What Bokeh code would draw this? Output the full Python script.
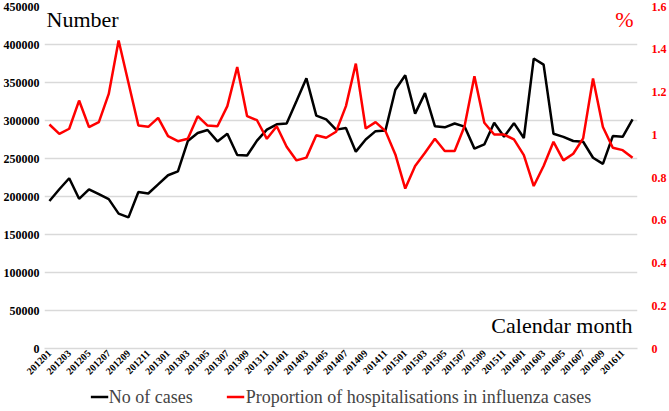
import math
from bokeh.plotting import figure
from bokeh.layouts import column
from bokeh.models import (Range1d, LinearAxis, FixedTicker, CustomJSTickFormatter,
                          NumeralTickFormatter, Legend, LegendItem, Label, FactorRange)
from bokeh.embed import file_html
from bokeh.resources import INLINE

months = [f"{y}{m:02d}" for y in range(2012, 2017) for m in range(1, 13)]

cases = [194000, 209500, 224000, 197000, 209500, 203000, 196500, 177500, 172500, 206000,
         204000, 216000, 228000, 233000, 273000, 283500, 287500, 272500, 282500, 254500,
         254000, 273500, 288000, 295000, 296000, 325500, 355500, 306500, 301500, 288000,
         290000, 259000, 275000, 286000, 287000, 340500, 359500, 309000, 336000, 292500,
         291000, 296000, 292000, 263000, 268500, 297000, 278500, 296500, 277000, 381500,
         373500, 282500, 278500, 273000, 272000, 251000, 243000, 279500, 278500, 301500]

proportion = [1.048, 1.004, 1.028, 1.160, 1.036, 1.059, 1.191, 1.441, 1.242, 1.043,
              1.037, 1.079, 0.994, 0.970, 0.981, 1.087, 1.043, 1.040, 1.134, 1.317,
              1.087, 1.068, 0.981, 1.040, 0.944, 0.880, 0.893, 0.998, 0.986, 1.014,
              1.134, 1.333, 1.029, 1.059, 1.017, 0.908, 0.748, 0.854, 0.916, 0.981,
              0.924, 0.924, 1.040, 1.274, 1.056, 1.001, 1.001, 0.978, 0.905, 0.760,
              0.854, 0.967, 0.880, 0.911, 0.983, 1.263, 1.036, 0.939, 0.928, 0.892]

left_ticks = [0, 50000, 100000, 150000, 200000, 250000, 300000, 350000, 400000, 450000]
right_ticks = [0, 0.2, 0.4, 0.6, 0.8, 1.0, 1.2, 1.4, 1.6]

series_names = ["No of cases", "Proportion of hospitalisations in influenza cases"]

FONT = "Liberation Serif"
RED = "#ff0000"
GRID = "#d9d9d9"

p = figure(width=669, height=383, x_range=FactorRange(factors=months),
           y_range=Range1d(0, 450000), output_backend="svg", toolbar_location=None,
           min_border_left=43, min_border_right=32, min_border_top=6, min_border_bottom=35)
p.outline_line_color = None
p.background_fill_color = "white"
p.border_fill_color = "white"

p.extra_y_ranges = {"pct": Range1d(0, 1.6)}

# left axis
ya = p.yaxis[0]
ya.ticker = FixedTicker(ticks=left_ticks)
ya.formatter = NumeralTickFormatter(format="0")
ya.axis_line_color = None
ya.major_tick_line_color = None
ya.minor_tick_line_color = None
ya.major_tick_out = 0
ya.major_label_standoff = 5
ya.major_label_text_font = FONT
ya.major_label_text_font_style = "bold"
ya.major_label_text_font_size = "12px"
ya.major_label_text_color = "black"

# right axis
ra = LinearAxis(y_range_name="pct", ticker=FixedTicker(ticks=right_ticks),
                formatter=CustomJSTickFormatter(code="return String(Math.round(tick*10)/10);"))
ra.axis_line_color = None
ra.major_tick_line_color = None
ra.minor_tick_line_color = None
ra.major_tick_out = 0
ra.major_label_standoff = 14
ra.major_label_text_font = FONT
ra.major_label_text_font_style = "bold"
ra.major_label_text_font_size = "12px"
ra.major_label_text_color = RED
p.add_layout(ra, "right")

# x axis
xa = p.xaxis[0]
xa.formatter = CustomJSTickFormatter(code="return (index % 2) ? '' : tick;")
xa.major_label_orientation = math.pi / 4
xa.major_label_text_font = FONT
xa.major_label_text_font_style = "bold"
xa.major_label_text_font_size = "10px"
xa.major_label_text_color = "black"
xa.major_tick_line_color = None
xa.major_tick_out = 0
xa.major_label_standoff = 3
xa.axis_line_color = GRID
xa.axis_line_width = 1.5

p.xgrid.visible = False
p.ygrid.grid_line_color = GRID
p.ygrid.grid_line_width = 1.5

r1 = p.line(months, cases, line_color="black", line_width=2.5)
r2 = p.line(months, proportion, line_color=RED, line_width=2.5, y_range_name="pct")

p.add_layout(Label(x=0, y=450000, x_offset=2, y_offset=0, text="Number",
                   text_font=FONT, text_font_size="22px", text_baseline="top",
                   text_color="black"))
p.add_layout(Label(x=60, y=450000, x_offset=-4, y_offset=0, text="%",
                   text_font=FONT, text_font_size="22px", text_baseline="top",
                   text_align="right", text_color=RED))
p.add_layout(Label(x=60, y=30000, x_offset=-5, text="Calendar month",
                   text_font=FONT, text_font_size="22px", text_baseline="middle",
                   text_align="right", text_color="black",
                   background_fill_color="white"))

# legend strip below the chart (hidden copies of the series supply the legend glyphs)
lg = figure(width=669, height=27, output_backend="svg", toolbar_location=None,
            x_axis_type=None, y_axis_type=None, x_range=FactorRange(factors=months),
            y_range=Range1d(0, 450000), min_border=0)
lg.extra_y_ranges = {"pct": Range1d(0, 1.6)}
lg.outline_line_color = None
lg.grid.visible = False
k1 = lg.line(months, cases, line_color="black", line_width=2.5, visible=False)
k2 = lg.line(months, proportion, line_color=RED, line_width=2.5, y_range_name="pct",
             visible=False)
legend = Legend(items=[LegendItem(label=series_names[0], renderers=[k1]),
                       LegendItem(label=series_names[1], renderers=[k2])],
                orientation="horizontal", location="center",
                label_text_font=FONT, label_text_font_size="18px",
                glyph_width=18, glyph_height=18, label_standoff=1, spacing=34,
                padding=2, margin=0, border_line_color=None,
                background_fill_alpha=0)
lg.add_layout(legend)

page = column(p, lg, spacing=0)
open("out.html", "w").write(file_html(page, INLINE))
